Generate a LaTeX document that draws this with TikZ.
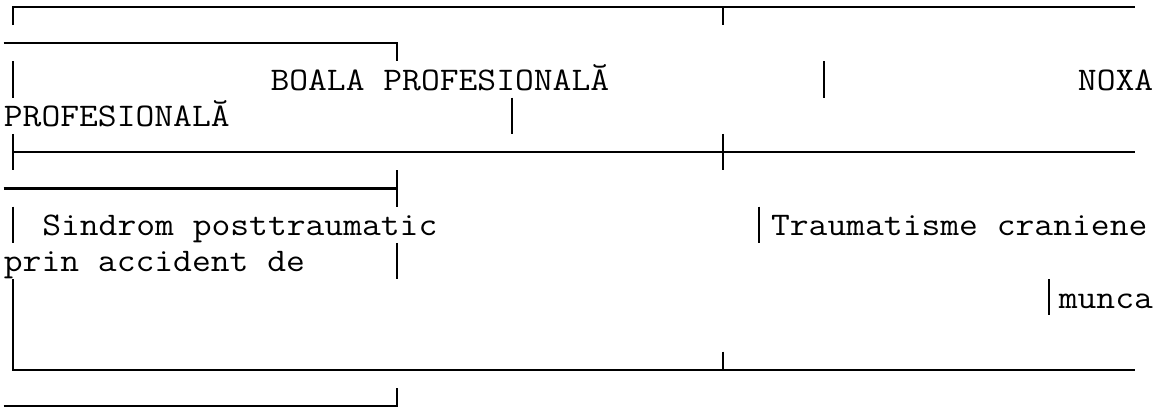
\documentclass[tikz,border=0pt]{standalone}
\usepackage{fontspec}
\newcommand{\mono}[1]{\scalebox{1.107}[1]{#1}}
\begin{document}
\begin{tikzpicture}[x=1pt,y=-1pt]
        \tikzstyle{txt}=[anchor=base west,inner sep=0pt,font=\fontsize{33}{36}\selectfont\ttfamily]
        \tikzstyle{rule}=[draw,line width=2.2pt]
        \useasboundingbox (0,0) rectangle (1164,412);
       \begin{scope}[shift={(3.7,7)},x=19.18pt,y=-36.28pt]
         % frame rows (each row wrapped in two)
         \path[rule] (0.5,0.5) -- (0.5,0) -- (59,0);
         \path[rule] (0,1) -- (20.5,1) -- (20.5,1.5);
         \path[rule] (0.5,4) -- (59,4);
         \path[rule] (0,5) -- (20.5,5);
         \path[rule] (0.5,7.5) -- (0.5,10) -- (59,10);
         \path[rule] (0,11) -- (20.5,11) -- (20.5,10.5);
         % vertical bars
         \foreach \r in {2,4,6} \path[rule] (0.5,\r-0.5) -- (0.5,\r+0.5);
         \foreach \r in {5,7} \path[rule] (20.5,\r-0.5) -- (20.5,\r+0.5);
         \path[rule] (37.5,0) -- (37.5,0.5);
         \path[rule] (37.5,3.5) -- (37.5,4.5);
         \path[rule] (37.5,9.5) -- (37.5,10);
         \path[rule] (42.78,1.5) -- (42.78,2.5);
         \path[rule] (26.5,2.5) -- (26.5,3.5);
         \path[rule] (39.39,5.5) -- (39.39,6.5);
         \path[rule] (54.5,7.5) -- (54.5,8.5);
         % cell texts
         \node [txt] (boala) at (13.9,2.303) {\mono{BOALA PROFESIONALĂ}};
         \node [txt] (noxa) at (56,2.303) {\mono{NOXA}};
         \node [txt] (prof) at (0,3.303) {\mono{PROFESIONALĂ}};
         \node [txt] (sindrom) at (2,6.303) {\mono{Sindrom posttraumatic}};
         \node [txt] (trauma) at (40,6.303) {\mono{Traumatisme craniene}};
         \node [txt] (prin) at (0,7.303) {\mono{prin accident de}};
         \node [txt] (munca) at (55,8.303) {\mono{munca}};
        \end{scope}
      \end{tikzpicture}
\end{document}
